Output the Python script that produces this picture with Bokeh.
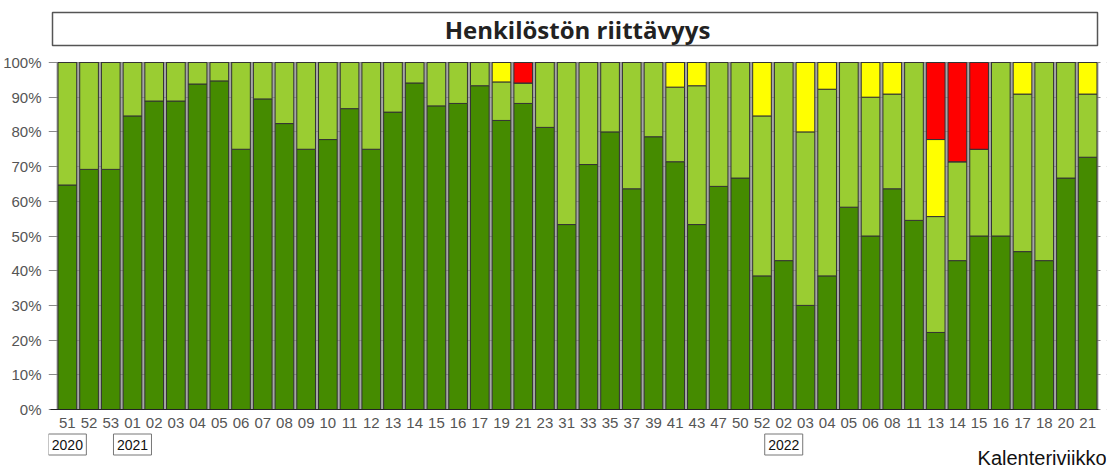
from bokeh.plotting import figure
from bokeh.models import ColumnDataSource, Range1d, FixedTicker, NumeralTickFormatter
from bokeh.core.properties import value
from bokeh.embed import file_html
from bokeh.resources import INLINE

weeks = ["51", "52", "53", "01", "02", "03", "04", "05", "06", "07", "08", "09",
         "10", "11", "12", "13", "14", "15", "16", "17", "19", "21", "23", "31",
         "33", "35", "37", "39", "41", "43", "47", "50", "52", "02", "03", "04",
         "05", "06", "08", "11", "13", "14", "15", "16", "17", "18", "20", "21"]

# percentages per week
dark = [64.7, 69.2, 69.2, 84.6, 88.9, 88.9, 93.8, 94.7, 75.0, 89.5, 82.4, 75.0,
        77.8, 86.7, 75.0, 85.7, 94.1, 87.5, 88.2, 93.3, 83.3, 88.2, 81.3, 53.3,
        70.6, 80.0, 63.6, 78.6, 71.4, 53.3, 64.3, 66.7, 38.5, 42.9, 30.0, 38.5,
        58.3, 50.0, 63.6, 54.5, 22.2, 42.9, 50.0, 50.0, 45.5, 42.9, 66.7, 72.7]
light = [35.3, 30.8, 30.8, 15.4, 11.1, 11.1, 6.2, 5.3, 25.0, 10.5, 17.6, 25.0,
         22.2, 13.3, 25.0, 14.3, 5.9, 12.5, 11.8, 6.7, 11.1, 5.9, 18.7, 46.7,
         29.4, 20.0, 36.4, 21.4, 21.5, 40.0, 35.7, 33.3, 46.1, 57.1, 50.0, 53.8,
         41.7, 40.0, 27.3, 45.5, 33.4, 28.5, 25.0, 50.0, 45.4, 57.1, 33.3, 18.2]
yellow = [0, 0, 0, 0, 0, 0, 0, 0, 0, 0, 0, 0,
          0, 0, 0, 0, 0, 0, 0, 0, 5.6, 0, 0, 0,
          0, 0, 0, 0, 7.1, 6.7, 0, 0, 15.4, 0, 20.0, 7.7,
          0, 10.0, 9.1, 0, 22.2, 0, 0, 0, 9.1, 0, 0, 9.1]
red = [0, 0, 0, 0, 0, 0, 0, 0, 0, 0, 0, 0,
       0, 0, 0, 0, 0, 0, 0, 0, 0, 5.9, 0, 0,
       0, 0, 0, 0, 0, 0, 0, 0, 0, 0, 0, 0,
       0, 0, 0, 0, 22.2, 28.6, 25.0, 0, 0, 0, 0, 0]

years = ["2020", "2021", "2022"]
year_start = [1, 4, 34]  # position of the first week of each year

title_text = "Henkilöstön riittävyys"
xlabel_text = "Kalenteriviikko"

colors = ["#458B00", "#9ACD32", "#FFFF00", "#FF0000"]

n = len(weeks)
xs = list(range(1, n + 1))
yticks = [i / 10 for i in range(11)]

# ---- layout (pixels) ----
W, H = 1107, 472
FL, FR, FT, FB = 48, 1106, 2, 470          # frame edges
X0_PX, X1_PX = 56, 1098                     # left edge of first bar, right edge of last bar
Y0_PX, Y1_PX = 409, 62                      # 0% and 100%
SX = (X1_PX - X0_PX) / n
SY = (Y0_PX - Y1_PX)


def px_x(px):
    return 0.5 + (px - X0_PX) / SX


def px_y(py):
    return (Y0_PX - py) / SY


src = ColumnDataSource(dict(
    x=xs,
    dark=[v / 100 for v in dark],
    light=[v / 100 for v in light],
    yellow=[v / 100 for v in yellow],
    red=[v / 100 for v in red],
))

p = figure(width=W, height=H, output_backend="svg", toolbar_location=None,
           x_axis_location=None,
           x_range=Range1d(px_x(FL), px_x(FR)), y_range=Range1d(px_y(FB), px_y(FT)),
           min_border_left=FL, min_border_right=W - FR,
           min_border_top=FT, min_border_bottom=H - FB)
p.outline_line_color = None
p.background_fill_color = "white"
p.border_fill_color = "white"

# grey backdrop visible in the gaps between bars
p.quad(left=0.5, right=n + 0.5, bottom=0, top=1, fill_color="#a6a6a6",
       line_color=None, level="image")
# hide grid lines to the right of the last bar
p.quad(left=px_x(1100), right=px_x(FR), bottom=-0.01, top=1.01, fill_color="white",
       line_color=None)

p.vbar_stack(["dark", "light", "yellow", "red"], x="x", width=0.86,
             color=colors, line_color="#333333", line_width=1, source=src)

# y axis (labels only; the grid lines act as the tick marks)
p.yaxis.bounds = (0, 1)
p.yaxis.ticker = FixedTicker(ticks=yticks)
p.yaxis.formatter = NumeralTickFormatter(format="0%")
p.yaxis.minor_tick_line_color = None
p.yaxis.major_tick_line_color = None
p.yaxis.axis_line_color = None
p.yaxis.major_label_text_font = "Liberation Sans"
p.yaxis.major_label_text_font_size = "15px"
p.yaxis.major_label_text_color = "#555555"
p.yaxis.major_label_standoff = 1

p.xgrid.grid_line_color = None
p.ygrid.ticker = FixedTicker(ticks=yticks)
p.ygrid.grid_line_color = "#8a8a8a"

# x axis line at 0
p.segment(x0=px_x(50), x1=n + 0.5, y0=0, y1=0, line_color="#222222", line_width=1.2)

# week tick labels
p.text(x=xs, y=[px_y(422)] * n, text=weeks, text_align="center",
       text_baseline="middle", text_font=value("Liberation Sans"),
       text_font_size="15px", text_color="#555555")

# year boxes
p.rect(x=year_start, y=[px_y(444)] * len(years), width=38, height=21,
       width_units="screen", height_units="screen", fill_color="white",
       line_color="#777777", line_width=1)
p.text(x=year_start, y=[px_y(444)] * len(years), text=years, text_align="center",
       text_baseline="middle", text_font=value("Liberation Sans"),
       text_font_size="14px", text_color="#111111")

# axis title
p.text(x=[px_x(FR)], y=[px_y(457)], text=[xlabel_text], text_align="right",
       text_baseline="middle", text_font=value("Liberation Sans"),
       text_font_size="20px", text_color="#111111")

# title box
p.quad(left=px_x(52), right=px_x(1097), bottom=px_y(45), top=px_y(12),
       fill_color="white", line_color="#555555", line_width=1.5)
p.text(x=[(n + 1) / 2], y=[px_y(29)], text=[title_text], text_align="center",
       text_baseline="middle", text_font=value("Open Sans"), text_font_style="bold",
       text_font_size="24px", text_color="#222222")

open("out.html", "w").write(file_html(p, INLINE))
